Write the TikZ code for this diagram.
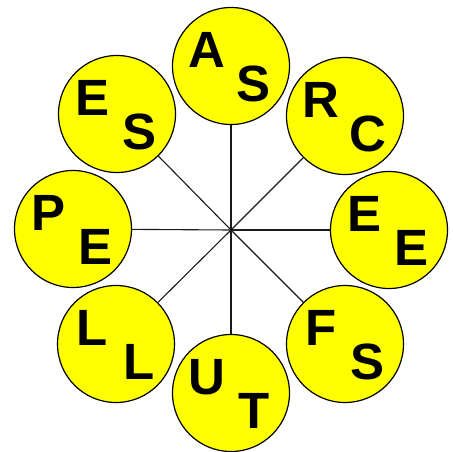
\documentclass[tikz,border=0pt]{standalone}
\usepackage{fontspec}
\setmainfont{Liberation Sans}
\usepackage{xcolor}
\usepackage{tikz}
\usetikzlibrary{positioning, calc}
\definecolor{discyellow}{HTML}{FFFF00}
\definecolor{spokegray}{HTML}{1A1A1A}

\tikzset{
  disc/.style={circle, fill=discyellow, draw=black, line width=1.2pt,
               minimum size=117pt, inner sep=0pt},
  letter/.style={inner sep=0pt, text height=36pt, text depth=0pt,
                 font=\fontsize{51}{51}\selectfont\bfseries},
  spoke/.style={draw=spokegray, line width=1.1pt}
}

\begin{document}
\begin{tikzpicture}[x=1pt, y=-1pt]
  \useasboundingbox (0,0) rectangle (453,451);
  \coordinate (hub) at (231,230);

  \node[disc] (top)   at (231,66)  {};
  \node[disc] (upr)   at (345,116) {};
  \node[disc] (right) at (389,230) {};
  \node[disc] (lowr)  at (345,344) {};
  \node[disc] (bot)   at (231,393) {};
  \node[disc] (lowl)  at (116,344) {};
  \node[disc] (left)  at (73,229)  {};
  \node[disc] (upl)   at (117,114) {};

  % spokes from the hub out to each disc
  \draw[spoke] (hub) -- (top);
  \draw[spoke] (hub) -- (upr);
  \draw[spoke] (hub) -- (right);
  \draw[spoke] (hub) -- (lowr);
  \draw[spoke] (hub) -- (bot);
  \draw[spoke] (hub) -- (lowl);
  \draw[spoke] (hub) -- (left);
  \draw[spoke] (hub) -- (upl);

  \node[letter] (top-a)   at ($(top)+(-24,-17)$)   {A};
  \node[letter] (top-b)   at ($(top)+(23,17)$)     {S};
  \node[letter] (upr-a)   at ($(upr)+(-24,-17)$)   {R};
  \node[letter] (upr-b)   at ($(upr)+(23,17)$)     {C};
  \node[letter] (right-a) at ($(right)+(-24,-17)$) {E};
  \node[letter] (right-b) at ($(right)+(23,17)$)   {E};
  \node[letter] (lowr-a)  at ($(lowr)+(-24,-17)$)  {F};
  \node[letter] (lowr-b)  at ($(lowr)+(23,17)$)    {S};
  \node[letter] (bot-a)   at ($(bot)+(-24,-17)$)   {U};
  \node[letter] (bot-b)   at ($(bot)+(23,17)$)     {T};
  \node[letter] (lowl-a)  at ($(lowl)+(-24,-17)$)  {L};
  \node[letter] (lowl-b)  at ($(lowl)+(23,17)$)    {L};
  \node[letter] (left-a)  at ($(left)+(-24,-17)$)  {P};
  \node[letter] (left-b)  at ($(left)+(23,17)$)    {E};
  \node[letter] (upl-a)   at ($(upl)+(-24,-17)$)   {E};
  \node[letter] (upl-b)   at ($(upl)+(23,17)$)     {S};
\end{tikzpicture}
\end{document}
